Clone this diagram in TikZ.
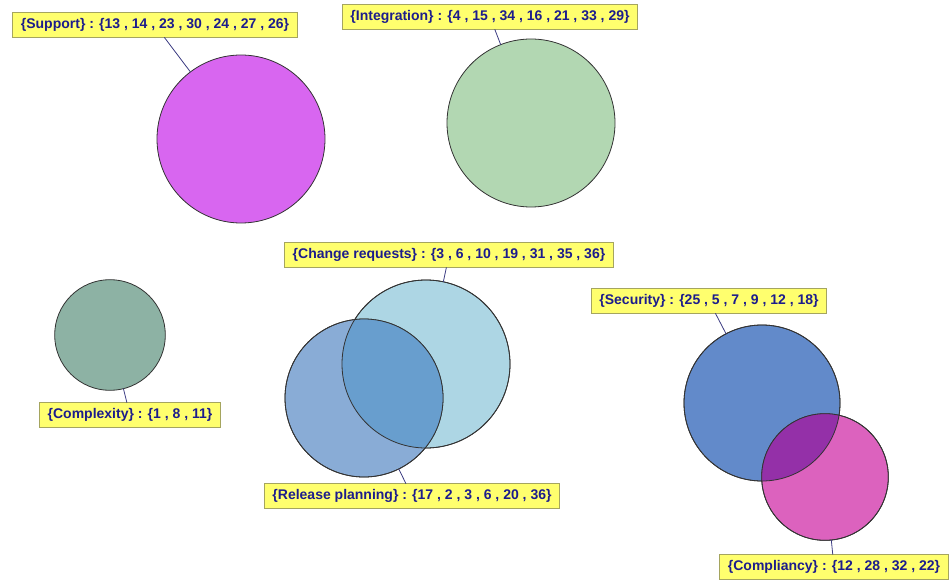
\documentclass[tikz,border=0pt]{standalone}
\usepackage{fontspec}
\setmainfont{Liberation Sans}

\definecolor{supfill}{RGB}{216,102,240}
\definecolor{intfill}{RGB}{178,215,178}
\definecolor{cpxfill}{RGB}{141,178,164}
\definecolor{crqfill}{RGB}{173,214,228}
\definecolor{relfill}{RGB}{137,172,214}
\definecolor{crrfill}{RGB}{104,158,206}
\definecolor{secfill}{RGB}{98,138,202}
\definecolor{cmpfill}{RGB}{220,98,190}
\definecolor{scmfill}{RGB}{148,48,168}
\definecolor{lblfill}{RGB}{255,255,110}
\definecolor{lbldraw}{RGB}{165,165,95}
\definecolor{lbltext}{RGB}{28,28,140}
\definecolor{leadcol}{RGB}{60,60,130}

\tikzset{every picture/.style={line width=0.75pt}}
\tikzset{
  setcirc/.style={circle,draw=black!80,line width=0.6pt,inner sep=0pt,outer sep=0pt},
  setrim/.style={draw=black!80,line width=0.6pt},
  setlbl/.style={rectangle,draw=lbldraw,fill=lblfill,text=lbltext,
    font=\bfseries\fontsize{10.5}{12}\selectfont,inner xsep=6pt,inner ysep=0pt,
    minimum height=18.5pt,outer sep=0pt},
  lead/.style={draw=leadcol,line width=0.6pt}
}

\begin{document}
\begin{tikzpicture}[x=0.75pt,y=0.75pt,yscale=-1,xscale=1]
\useasboundingbox (0,0) rectangle (952,581);

%Circles
\node [setcirc,fill=supfill,minimum size=126pt] (cSup) at (241,139) {};
\node [setcirc,fill=intfill,minimum size=126pt] (cInt) at (531,123) {};
\node [setcirc,fill=cpxfill,minimum size=83pt] (cCpx) at (110,335) {};
\node [setcirc,fill=crqfill,minimum size=126pt] (cCrq) at (426,364) {};
\node [setcirc,fill=relfill,minimum size=118.5pt] (cRel) at (364,398) {};
\node [setcirc,fill=secfill,minimum size=117pt] (cSec) at (762,403) {};
\node [setcirc,fill=cmpfill,minimum size=95pt] (cCmp) at (825,477) {};

%Overlaps
\begin{scope}
  \clip (cRel.center) circle [radius=59.25pt];
  \fill [crrfill] (cCrq.center) circle [radius=63pt];
\end{scope}
\begin{scope}
  \clip (cSec.center) circle [radius=58.5pt];
  \fill [scmfill] (cCmp.center) circle [radius=47.5pt];
\end{scope}
\draw [setrim] (cCrq.center) circle [radius=63pt];
\draw [setrim] (cRel.center) circle [radius=59.25pt];
\draw [setrim] (cSec.center) circle [radius=58.5pt];
\draw [setrim] (cCmp.center) circle [radius=47.5pt];

% Text Node
\node [setlbl] (lSup) at (155,25) {\{Support\} : \{13 , 14 , 23 , 30 , 24 , 27 , 26\}};
% Text Node
\node [setlbl] (lInt) at (490,17) {\{Integration\} : \{4 , 15 , 34 , 16 , 21 , 33 , 29\}};
% Text Node
\node [setlbl] (lCrq) at (449,255) {\{Change requests\} : \{3 , 6 , 10 , 19 , 31 , 35 , 36\}};
% Text Node
\node [setlbl] (lCpx) at (130,415) {\{Complexity\} : \{1 , 8 , 11\}};
% Text Node
\node [setlbl] (lRel) at (412,496) {\{Release planning\} : \{17 , 2 , 3 , 6 , 20 , 36\}};
% Text Node
\node [setlbl] (lSec) at (709,301) {\{Security\} : \{25 , 5 , 7 , 9 , 12 , 18\}};
% Text Node
\node [setlbl] (lCmp) at (834,567) {\{Compliancy\} : \{12 , 28 , 32 , 22\}};

%Leaders
\draw [lead] (lSup) -- (cSup);
\draw [lead] (lInt) -- (cInt);
\draw [lead] (lCrq) -- (cCrq);
\draw [lead] (lCpx) -- (cCpx);
\draw [lead] (lRel) -- (cRel);
\draw [lead] (lSec) -- (cSec);
\draw [lead] (lCmp) -- (cCmp);
\end{tikzpicture}
\end{document}
